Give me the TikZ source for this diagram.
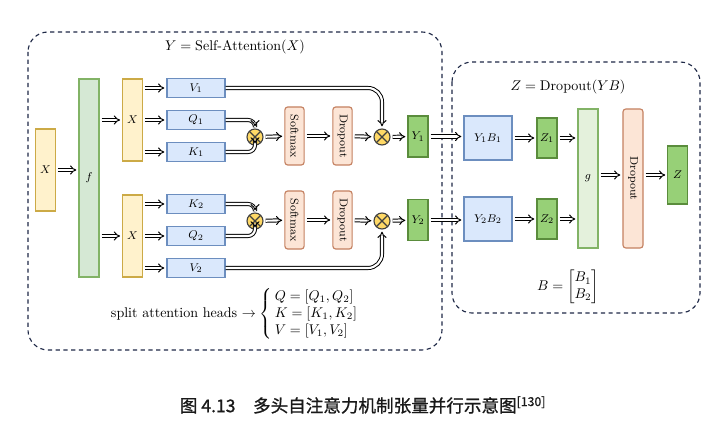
\documentclass[tikz,border=0pt]{standalone}
\usepackage{amsmath}
\usepackage{fontspec}
\newfontfamily\cjkfont[FakeBold=1]{Noto Sans CJK SC}
\usetikzlibrary{arrows.meta}

\definecolor{yelF}{RGB}{255,242,204}
\definecolor{yelD}{RGB}{204,170,70}
\definecolor{grnF}{RGB}{213,232,212}
\definecolor{grnD}{RGB}{130,179,102}
\definecolor{bluF}{RGB}{218,232,252}
\definecolor{bluD}{RGB}{108,142,191}
\definecolor{peaF}{RGB}{252,229,214}
\definecolor{peaD}{RGB}{196,128,96}
\definecolor{dgrF}{RGB}{151,208,119}
\definecolor{dgrD}{RGB}{90,140,60}
\definecolor{lgrF}{RGB}{228,241,220}
\definecolor{mulF}{RGB}{255,217,102}
\definecolor{grpD}{RGB}{30,40,70}

\begin{document}
\begin{tikzpicture}[
  x=0.25mm, y=-0.25mm,
  font=\footnotesize,
  yel/.style={draw=yelD, fill=yelF, thick, inner sep=0pt, minimum width=4.9mm},
  grn/.style={draw=grnD, fill=grnF, thick, inner sep=0pt, minimum width=5mm},
  blu/.style={draw=bluD, fill=bluF, thick, inner sep=0pt, minimum width=14.5mm, minimum height=4.8mm},
  pea/.style={draw=peaD, fill=peaF, thick, rounded corners=2pt, inner sep=0pt,
              minimum width=4.8mm, rotate=-90},
  dgr/.style={draw=dgrD, fill=dgrF, thick, inner sep=0pt, minimum width=5mm},
  mul/.style={circle, draw=black!75, fill=mulF, thick, inner sep=0pt, minimum size=4mm,
              path picture={\draw[black!75, thick]
                (path picture bounding box.south west) -- (path picture bounding box.north east)
                (path picture bounding box.north west) -- (path picture bounding box.south east);}},
  arr/.style={double, double distance=1.5pt, line width=0.7pt, -{Implies},
              shorten <=1.5pt, shorten >=1.5pt},
  curv/.style={arr, rounded corners=5pt, shorten <=0pt},
  grp/.style={draw=grpD, dashed, dash pattern=on 3pt off 2.5pt, line width=0.8pt,
              rounded corners=5mm},
  ttl/.style={font=\normalsize}]

\useasboundingbox (0,0) rectangle (723,426);

% ---- groups ----
\draw[grp] (28,32) rectangle (442,350);
\draw[grp] (452,62) rectangle (700,313);
\node[ttl] (ttlY) at (235,47) {$Y=\text{Self-Attention}(X)$};
\node[ttl] (ttlZ) at (568,87) {$Z=\text{Dropout}(YB)$};

% ---- input and projection ----
\node[yel, minimum height=20.5mm] (xin) at (45.5,170) {$X$};
\node[grn, minimum height=49.5mm] (f) at (89,178) {$f$};
\node[yel, minimum height=20.5mm] (xa) at (132.5,120) {$X$};
\node[yel, minimum height=20.5mm] (xb) at (132.5,236) {$X$};

\draw[arr] (xin.east) -- (xin.east -| f.west);
\draw[arr] (xa.west -| f.east) -- (xa.west);
\draw[arr] (xb.west -| f.east) -- (xb.west);

% ---- head 1 ----
\node[blu] (v1) at (196,88) {$V_1$};
\node[blu] (q1) at (196,120) {$Q_1$};
\node[blu] (k1) at (196,152) {$K_1$};
\node[mul] (m11) at (255,137) {};
\node[pea, minimum width=14.5mm, minimum height=4.8mm] (sm1) at (294.5,136) {Softmax};
\node[pea, minimum width=14.5mm, minimum height=4.8mm] (dr1) at (342.5,136) {Dropout};
\node[mul] (m12) at (382,137) {};
\node[dgr, minimum height=10.25mm] (y1) at (418,136.5) {$Y_1$};

\foreach \n in {v1,q1,k1}
  \draw[arr] (xa.east |- \n.west) -- (\n.west);
\draw[curv] (q1.east) -| (m11.north);
\draw[curv] (k1.east) -| (m11.south);
\draw[curv, rounded corners=10pt] (v1.east) -| (m12.north);
\draw[arr] (m11) -- (sm1);
\draw[arr] (sm1) -- (dr1);
\draw[arr] (dr1) -- (m12);
\draw[arr] (m12) -- (y1);

% ---- head 2 ----
\node[blu] (k2) at (196,204) {$K_2$};
\node[blu] (q2) at (196,236) {$Q_2$};
\node[blu] (v2) at (196,268) {$V_2$};
\node[mul] (m21) at (255,221) {};
\node[pea, minimum width=14.5mm, minimum height=4.8mm] (sm2) at (294.5,220) {Softmax};
\node[pea, minimum width=14.5mm, minimum height=4.8mm] (dr2) at (342.5,220) {Dropout};
\node[mul] (m22) at (382,221) {};
\node[dgr, minimum height=10.25mm] (y2) at (418,220) {$Y_2$};

\foreach \n in {k2,q2,v2}
  \draw[arr] (xb.east |- \n.west) -- (\n.west);
\draw[curv] (k2.east) -| (m21.north);
\draw[curv] (q2.east) -| (m21.south);
\draw[curv, rounded corners=10pt] (v2.east) -| (m22.south);
\draw[arr] (m21) -- (sm2);
\draw[arr] (sm2) -- (dr2);
\draw[arr] (dr2) -- (m22);
\draw[arr] (m22) -- (y2);

% ---- split note ----
\node[ttl, anchor=west] (split) at (106,314)
  {split attention heads $\rightarrow\left\{\begin{array}{@{\,}l@{}}
     Q=[Q_1,Q_2]\\ K=[K_1,K_2]\\ V=[V_1,V_2]\end{array}\right.$};

% ---- output projection ----
\node[draw=bluD, fill=bluF, thick, minimum width=12mm, minimum height=11mm] (yb1) at (488,138) {$Y_1B_1$};
\node[draw=bluD, fill=bluF, thick, minimum width=12mm, minimum height=11mm] (yb2) at (488,219) {$Y_2B_2$};
\node[dgr, minimum height=10mm] (z1) at (547,138) {$Z_1$};
\node[dgr, minimum height=10mm] (z2) at (547,219) {$Z_2$};
\node[grn, fill=lgrF, minimum height=34.75mm] (g) at (588,178.5) {$g$};
\node[pea, minimum width=34.75mm, minimum height=5mm] (dr) at (633,178.5) {Dropout};
\node[dgr, minimum width=4.8mm, minimum height=14.5mm] (z) at (677.5,175) {$Z$};

\draw[arr] (y1.east) -- (y1.east -| yb1.west);
\draw[arr] (y2.east) -- (y2.east -| yb2.west);
\draw[arr] (yb1.east |- z1.west) -- (z1.west);
\draw[arr] (yb2.east |- z2.west) -- (z2.west);
\draw[arr] (z1.east) -- (z1.east -| g.west);
\draw[arr] (z2.east) -- (z2.east -| g.west);
\draw[arr] (g.east |- z.west) -- (dr.south |- z.west);
\draw[arr] (dr.north |- z.west) -- (z.west);

\node[ttl] (bmat) at (568,287) {$B=\begin{bmatrix}B_1\\B_2\end{bmatrix}$};

% ---- caption ----
\node[font=\cjkfont\fontsize{12.5}{15}\selectfont, text=black!90] (cap) at (363,405)
  {图 4.13\quad 多头自注意力机制张量并行示意图\textsuperscript{[130]}};
\end{tikzpicture}
\end{document}
